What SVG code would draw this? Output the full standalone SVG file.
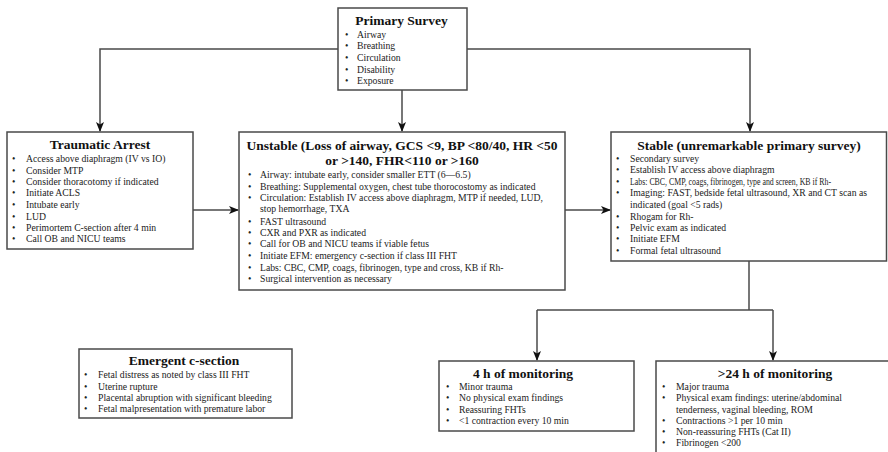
<svg xmlns="http://www.w3.org/2000/svg" width="888" height="452" viewBox="0 0 888 452">
<style>
.box{fill:#fff;stroke:#4a4a4a;stroke-width:1.5}
.t{font-family:"Liberation Serif","Times New Roman",serif;font-weight:bold;font-size:13.5px;fill:#111;text-anchor:middle}
.b{font-family:"Liberation Serif","Times New Roman",serif;font-size:9.7px;fill:#222}
.c{fill:none;stroke:#4a4a4a;stroke-width:1.5}
</style>
<defs>
<marker id="ah" markerUnits="userSpaceOnUse" markerWidth="10" markerHeight="10" viewBox="0 0 10 10" refX="9" refY="5" orient="auto">
<path d="M0,1 L10,5 L0,9 L2.5,5 z" fill="#111"/>
</marker>
</defs>
<g id="connectors">
<path class="c" d="M338,49 H100 V131" marker-end="url(#ah)"/>
<path class="c" d="M402,90 V131" marker-end="url(#ah)"/>
<path class="c" d="M467,49 H750 V131" marker-end="url(#ah)"/>
<path class="c" d="M193,210 H238" marker-end="url(#ah)"/>
<path class="c" d="M565,210 H610" marker-end="url(#ah)"/>
<path class="c" d="M749,261 V310"/>
<path class="c" d="M537,310 H773"/>
<path class="c" d="M537,310 V360" marker-end="url(#ah)"/>
<path class="c" d="M773,310 V360" marker-end="url(#ah)"/>
</g>
<g id="primary">
<rect class="box" x="338" y="8" width="129" height="82"/>
<text class="t" x="401.5" y="25">Primary Survey</text>
<text class="b" x="345" y="37.5">•</text><text class="b" x="357" y="37.5">Airway</text>
<text class="b" x="345" y="49">•</text><text class="b" x="357" y="49">Breathing</text>
<text class="b" x="345" y="61">•</text><text class="b" x="357" y="61">Circulation</text>
<text class="b" x="345" y="72.5">•</text><text class="b" x="357" y="72.5">Disability</text>
<text class="b" x="345" y="84">•</text><text class="b" x="357" y="84">Exposure</text>
</g>
<g id="traumatic">
<rect class="box" x="7" y="132" width="186" height="117"/>
<text class="t" x="100" y="149">Traumatic Arrest</text>
<text class="b" x="12" y="162">•</text><text class="b" x="26" y="162">Access above diaphragm (IV vs IO)</text>
<text class="b" x="12" y="173.5">•</text><text class="b" x="26" y="173.5">Consider MTP</text>
<text class="b" x="12" y="185">•</text><text class="b" x="26" y="185">Consider thoracotomy if indicated</text>
<text class="b" x="12" y="196.3">•</text><text class="b" x="26" y="196.3">Initiate ACLS</text>
<text class="b" x="12" y="207.7">•</text><text class="b" x="26" y="207.7">Intubate early</text>
<text class="b" x="12" y="219.5">•</text><text class="b" x="26" y="219.5">LUD</text>
<text class="b" x="12" y="231">•</text><text class="b" x="26" y="231">Perimortem C-section after 4 min</text>
<text class="b" x="12" y="242.3">•</text><text class="b" x="26" y="242.3">Call OB and NICU teams</text>
</g>
<g id="unstable">
<rect class="box" x="239" y="132" width="326" height="158"/>
<text class="t" x="402" y="149.5">Unstable (Loss of airway, GCS &lt;9, BP &lt;80/40, HR &lt;50</text>
<text class="t" x="402" y="165">or &gt;140, FHR&lt;110 or &gt;160</text>
<text class="b" x="248" y="178">•</text><text class="b" x="260" y="178">Airway: intubate early, consider smaller ETT (6—6.5)</text>
<text class="b" x="248" y="189.5">•</text><text class="b" x="260" y="189.5">Breathing: Supplemental oxygen, chest tube thorocostomy as indicated</text>
<text class="b" x="248" y="200.5">•</text><text class="b" x="260" y="200.5">Circulation: Establish IV access above diaphragm, MTP if needed, LUD,</text>
<text class="b" x="260" y="212">stop hemorrhage, TXA</text>
<text class="b" x="248" y="224.5">•</text><text class="b" x="260" y="224.5">FAST ultrasound</text>
<text class="b" x="248" y="236">•</text><text class="b" x="260" y="236">CXR and PXR as indicated</text>
<text class="b" x="248" y="247">•</text><text class="b" x="260" y="247">Call for OB and NICU teams if viable fetus</text>
<text class="b" x="248" y="258.5">•</text><text class="b" x="260" y="258.5">Initiate EFM: emergency c-section if class III FHT</text>
<text class="b" x="248" y="270.5">•</text><text class="b" x="260" y="270.5">Labs: CBC, CMP, coags, fibrinogen, type and cross, KB if Rh-</text>
<text class="b" x="248" y="282">•</text><text class="b" x="260" y="282">Surgical intervention as necessary</text>
</g>
<g id="stable">
<rect class="box" x="611" y="132" width="275.5" height="129"/>
<text class="t" x="749" y="150">Stable (unremarkable primary survey)</text>
<text class="b" x="616" y="162">•</text><text class="b" x="630" y="162">Secondary survey</text>
<text class="b" x="616" y="173.3">•</text><text class="b" x="630" y="173.3">Establish IV access above diaphragm</text>
<text class="b" x="616" y="185">•</text><text class="b" x="630" y="185" textLength="201" lengthAdjust="spacingAndGlyphs">Labs: CBC, CMP, coags, fibrinogen, type and screen, KB if Rh-</text>
<text class="b" x="616" y="195.5">•</text><text class="b" x="630" y="195.5" textLength="237" lengthAdjust="spacing">Imaging: FAST, bedside fetal ultrasound, XR and CT scan as</text>
<text class="b" x="630" y="207.7">indicated (goal &lt;5 rads)</text>
<text class="b" x="616" y="220.3">•</text><text class="b" x="630" y="220.3">Rhogam for Rh-</text>
<text class="b" x="616" y="231">•</text><text class="b" x="630" y="231">Pelvic exam as indicated</text>
<text class="b" x="616" y="242">•</text><text class="b" x="630" y="242">Initiate EFM</text>
<text class="b" x="616" y="254">•</text><text class="b" x="630" y="254">Formal fetal ultrasound</text>
</g>
<g id="emergent">
<rect class="box" x="79" y="349" width="213" height="69"/>
<text class="t" x="184" y="365">Emergent c-section</text>
<text class="b" x="84" y="378">•</text><text class="b" x="98" y="378">Fetal distress as noted by class III FHT</text>
<text class="b" x="84" y="389.5">•</text><text class="b" x="98" y="389.5">Uterine rupture</text>
<text class="b" x="84" y="401">•</text><text class="b" x="98" y="401">Placental abruption with significant bleeding</text>
<text class="b" x="84" y="412">•</text><text class="b" x="98" y="412">Fetal malpresentation with premature labor</text>
</g>
<g id="monitor4">
<rect class="box" x="439" y="361" width="195" height="70"/>
<text class="t" x="523" y="378">4 h of monitoring</text>
<text class="b" x="446" y="389.5">•</text><text class="b" x="459" y="389.5">Minor trauma</text>
<text class="b" x="446" y="401">•</text><text class="b" x="459" y="401">No physical exam findings</text>
<text class="b" x="446" y="412.5">•</text><text class="b" x="459" y="412.5">Reassuring FHTs</text>
<text class="b" x="446" y="424">•</text><text class="b" x="459" y="424">&lt;1 contraction every 10 min</text>
</g>
<g id="monitor24">
<rect class="box" x="656" y="361" width="240" height="100"/>
<text class="t" x="775" y="378">&gt;24 h of monitoring</text>
<text class="b" x="662" y="389.5">•</text><text class="b" x="676" y="389.5">Major trauma</text>
<text class="b" x="662" y="401">•</text><text class="b" x="676" y="401">Physical exam findings: uterine/abdominal</text>
<text class="b" x="676" y="412.5">tenderness, vaginal bleeding, ROM</text>
<text class="b" x="662" y="424">•</text><text class="b" x="676" y="424">Contractions &gt;1 per 10 min</text>
<text class="b" x="662" y="435">•</text><text class="b" x="676" y="435">Non-reassuring FHTs (Cat II)</text>
<text class="b" x="662" y="446">•</text><text class="b" x="676" y="446">Fibrinogen &lt;200</text>
</g>
</svg>
